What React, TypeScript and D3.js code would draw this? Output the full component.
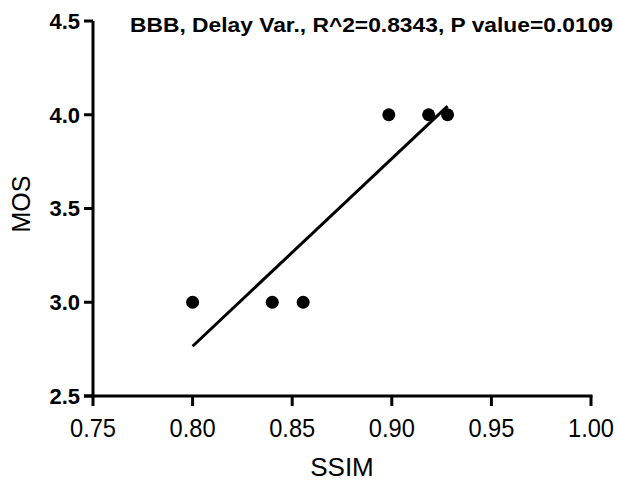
import React from "react";
import * as d3 from "d3";

const ssim: number[] = [0.8, 0.84, 0.8555, 0.8985, 0.9185, 0.928];
const mos: number[] = [3.0, 3.0, 3.0, 4.0, 4.0, 4.0];
const xTicks: number[] = [0.75, 0.8, 0.85, 0.9, 0.95, 1.0];
const yTicks: number[] = [2.5, 3.0, 3.5, 4.0, 4.5];
const titleText = "BBB, Delay Var., R^2=0.8343, P value=0.0109";
const xLabel = "SSIM";
const yLabel = "MOS";

const W = 618;
const H = 484;
const FONT = "'Liberation Sans', Arial, Helvetica, sans-serif";

export default function App() {
  const x = d3.scaleLinear().domain([0.75, 1.0]).range([93, 591]);
  const y = d3.scaleLinear().domain([2.5, 4.5]).range([396, 21]);

  const mx = d3.mean(ssim) as number;
  const my = d3.mean(mos) as number;
  let sxy = 0;
  let sxx = 0;
  ssim.forEach((v, i) => {
    sxy += (v - mx) * (mos[i] - my);
    sxx += (v - mx) * (v - mx);
  });
  const slope = sxy / sxx;
  const intercept = my - slope * mx;
  const [x0, x1] = d3.extent(ssim) as [number, number];
  const fitLine = d3.line<[number, number]>()
    .x((d) => x(d[0]))
    .y((d) => y(d[1]));
  const fitPts: [number, number][] = [
    [x0, intercept + slope * x0],
    [x1, intercept + slope * x1],
  ];

  const axisX0 = x(0.75);
  const axisY0 = y(2.5);

  return (
    <svg
      width={W}
      height={H}
      style={{ position: "absolute", left: 0, top: 0, background: "#fff" }}
      fontFamily={FONT}
    >
      <rect x={0} y={0} width={W} height={H} fill="#fff" />
      {/* Y axis */}
      <line x1={axisX0} x2={axisX0} y1={y(4.5)} y2={axisY0 + 1.5} stroke="#000" strokeWidth={3} />
      {yTicks.map((t) => (
        <g key={"y" + t}>
          <line x1={axisX0 - 9} x2={axisX0} y1={y(t)} y2={y(t)} stroke="#000" strokeWidth={3} />
          <text
            x={80}
            y={y(t)}
            dy="0.36em"
            textAnchor="end"
            fontSize={22}
            fontWeight="bold"
          >
            {t.toFixed(1)}
          </text>
        </g>
      ))}
      {/* X axis */}
      <line x1={axisX0 - 9} x2={x(1.0) + 1.5} y1={axisY0} y2={axisY0} stroke="#000" strokeWidth={3} />
      {xTicks.map((t) => (
        <g key={"x" + t}>
          <line x1={x(t)} x2={x(t)} y1={axisY0} y2={axisY0 + 10} stroke="#000" strokeWidth={3} />
          <text
            x={x(t) - 23}
            y={437}
            fontSize={26}
            textLength={46}
            lengthAdjust="spacingAndGlyphs"
          >
            {t.toFixed(2)}
          </text>
        </g>
      ))}
      {/* Axis labels */}
      <text x={342} y={476} textAnchor="middle" fontSize={26}>
        {xLabel}
      </text>
      <text
        transform={`translate(30,204) rotate(-90)`}
        textAnchor="middle"
        fontSize={25}
      >
        {yLabel}
      </text>
      {/* Title */}
      <text x={130} y={31.5} fontSize={19.5} fontWeight="bold" textLength={483} lengthAdjust="spacingAndGlyphs">
        {titleText}
      </text>
      {/* Fit line */}
      <path d={fitLine(fitPts) || ""} fill="none" stroke="#000" strokeWidth={3} />
      {/* Points */}
      {ssim.map((v, i) => (
        <circle key={"p" + i} cx={x(v)} cy={y(mos[i])} r={6.5} fill="#000" />
      ))}
    </svg>
  );
}
